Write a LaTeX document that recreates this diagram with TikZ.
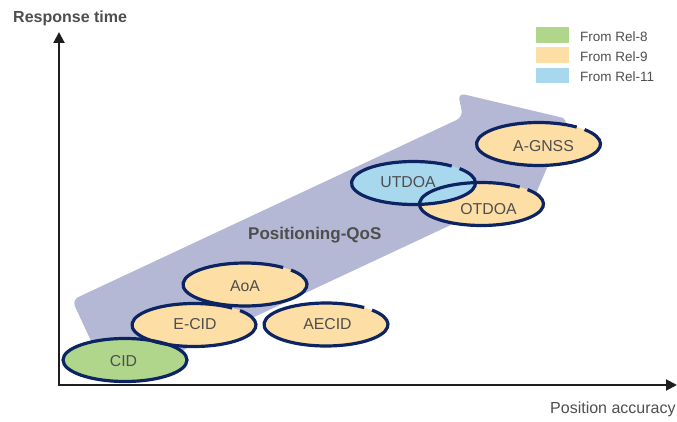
\documentclass[tikz,border=0pt]{standalone}
\usepackage{fontspec}
\setmainfont{Liberation Sans}
\usetikzlibrary{arrows.meta}
\definecolor{navy}{RGB}{12,36,98}
\definecolor{lav}{RGB}{180,184,212}
\definecolor{peach}{RGB}{253,222,165}
\definecolor{grn}{RGB}{176,214,140}
\definecolor{sky}{RGB}{168,216,238}
\definecolor{txt}{RGB}{78,78,78}
\definecolor{axiscol}{RGB}{30,30,30}
\begin{document}
\begin{tikzpicture}[x=1pt,y=-1pt,
  axisline/.style={draw=axiscol,line width=2pt,line join=miter,
    {Triangle[width=11pt,length=11pt]}-{Triangle[width=11pt,length=11pt]}},
  outl/.style={draw=navy,line width=3.2pt},
  etext/.style={text=txt,font=\fontsize{15.8}{15.8}\selectfont,inner sep=0pt},
  legtext/.style={text=txt,font=\fontsize{13.5}{13.5}\selectfont,inner sep=0pt,anchor=base west},
  axlabel/.style={text=txt,font=\fontsize{16}{16}\selectfont,inner sep=0pt,anchor=base west}]
\useasboundingbox (0,0) rectangle (677,422);

% axes
\coordinate (ytop) at (59,32);
\coordinate (origin) at (59,385);
\coordinate (xend) at (677,385);
\draw[axisline] (ytop) -- (origin) -- (xend);
\node[axlabel,font=\bfseries\fontsize{16}{16}\selectfont] (ylab) at (13,23) {Response time};
\node[axlabel] (xlab) at (550,413) {Position accuracy};

% big arrow
\fill[lav,rounded corners=7pt] (72,300) -- (463,117) -- (458,93) -- (568,119) -- (528,212) -- (502,201) -- (111,384) -- cycle;
\node[text=txt,font=\bfseries\fontsize{17}{17}\selectfont,inner sep=0pt,anchor=base west] (qos) at (248,240) {Positioning-QoS};

% fills
\fill[grn]   (125,360) ellipse [x radius=62pt, y radius=21.5pt];
\fill[peach] (194,325) ellipse [x radius=62pt, y radius=21.5pt];
\fill[peach] (245,284.5) ellipse [x radius=62pt, y radius=21.5pt];
\fill[peach] (326,324.5) ellipse [x radius=62pt, y radius=21.5pt];
\fill[peach] (481.5,204) ellipse [x radius=62pt, y radius=21.5pt];
\fill[sky]   (413.5,183) ellipse [x radius=62pt, y radius=21.5pt];
\fill[peach] (538.5,144) ellipse [x radius=62pt, y radius=21.5pt];

% outlines
\draw[outl] (125,360) ellipse [x radius=62pt, y radius=21.5pt];
\foreach \cx/\cy in {194/325, 245/284.5, 326/324.5, 413.5/183, 481.5/204, 538.5/144}{
  \draw[outl] (\cx,\cy) ++(52:62pt and 21.5pt) arc[start angle=52, end angle=402, x radius=62pt, y radius=21.5pt];
}

% labels
\node[etext] (cid) at (123.5,361.5) {CID};
\node[etext] (ecid) at (195,324) {E-CID};
\node[etext] (aoa) at (245,286) {AoA};
\node[etext] (aecid) at (327.5,324) {AECID};
\node[etext] (utdoa) at (408,182.5) {UTDOA};
\node[etext] (otdoa) at (488.5,209) {OTDOA};
\node[etext] (agnss) at (543.5,146) {A-GNSS};

% legend
\fill[grn]   (536,27) rectangle (569,43);
\fill[peach] (536,47) rectangle (569,63);
\fill[sky]   (536,68) rectangle (569,83);
\node[legtext] (l8) at (580,42) {From Rel-8};
\node[legtext] (l9) at (580,62) {From Rel-9};
\node[legtext] (l11) at (580,82) {From Rel-11};
\end{tikzpicture}
\end{document}
